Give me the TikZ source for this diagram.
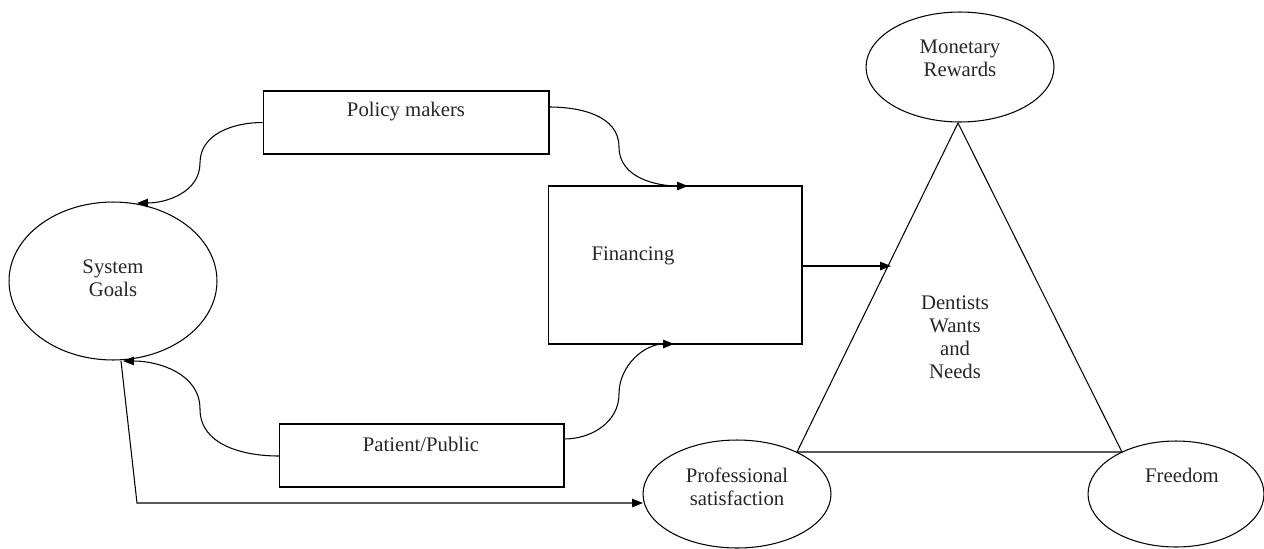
\documentclass[tikz,border=0pt]{standalone}
\usepackage{fontspec}
\setmainfont{Liberation Serif}
\usetikzlibrary{arrows.meta,shapes.geometric}
\begin{document}
\begin{tikzpicture}[x=0.02cm,y=-0.02cm, line width=0.6pt,
 box/.style={draw, rectangle, inner sep=0pt},
 oval/.style={draw, ellipse, inner sep=0pt},
 lbl/.style={font=\fontsize{11.8}{13}\selectfont, align=center, inner sep=0pt, text=black!85},
 arr/.style={-{Triangle[length=0.22cm,width=0.17cm]}}]
\useasboundingbox (0,0) rectangle (1264,548);
\clip (0,0) rectangle (1264,548);
% shapes
\node[box, minimum width=5.72cm, minimum height=1.26cm] (pm) at (406,122.5) {};
\node[box, minimum width=5.08cm, minimum height=3.16cm] (fin) at (675,265) {};
\node[box, minimum width=5.70cm, minimum height=1.26cm] (pp) at (421.5,455.5) {};
\node[oval, minimum width=4.16cm, minimum height=3.16cm] (sg) at (113,281) {};
\node[oval, minimum width=3.76cm, minimum height=2.20cm] (mr) at (960,67) {};
\node[oval, minimum width=3.76cm, minimum height=2.16cm] (ps) at (737,494) {};
\node[oval, minimum width=3.52cm, minimum height=2.12cm] (fr) at (1176,494) {};
% triangle
\coordinate (tA) at (958,123);
\coordinate (tL) at (797,452);
\coordinate (tR) at (1122,452);
\draw (tA) -- (tL) -- (tR) -- cycle;
% labels
\node[lbl] (pmt) at (406,112) {Policy makers};
\node[lbl] (fint) at (633,256) {Financing};
\node[lbl] (ppt) at (421,444) {Patient/Public};
\node[lbl] (sgt) at (113,278.5) {System\\Goals};
\node[lbl] (mrt) at (960,58.5) {Monetary\\Rewards};
\node[lbl] (pst) at (737,486.5) {Professional\\satisfaction};
\node[lbl] (frt) at (1182,475) {Freedom};
\node[lbl] (dnt) at (955,337) {Dentists\\Wants\\and\\Needs};
% connector points
\coordinate (sgTop) at (137,203);
\coordinate (sgBot) at (123,361);
\coordinate (sgOut) at (121,361);
\coordinate (finTop) at (688,186);
\coordinate (finBot) at (674,344);
\coordinate (pmR) at (549,107);
\coordinate (ppR) at (564,439);
\coordinate (ppL) at (279,456);
\coordinate (triIn) at (891,266);
\coordinate (corner) at (137,503);
\coordinate (psL) at (643,503);
% connectors
\draw[arr] (pm.west) to[out=180,in=90] (200,163) to[out=-90,in=0] (sgTop);
\draw[arr] (pmR) to[out=0,in=90] (619,147) to[out=-90,in=180] (finTop);
\draw[arr] (ppL) to[out=180,in=-90] (200,409) to[out=90,in=0] (sgBot);
\draw[arr] (ppR) to[out=0,in=-90] (619,394) to[out=90,in=180] (finBot);
\draw[arr] (fin.east |- triIn) -- (triIn);
\draw[arr] (sgOut) -- (corner) -- (psL);
\end{tikzpicture}
\end{document}
